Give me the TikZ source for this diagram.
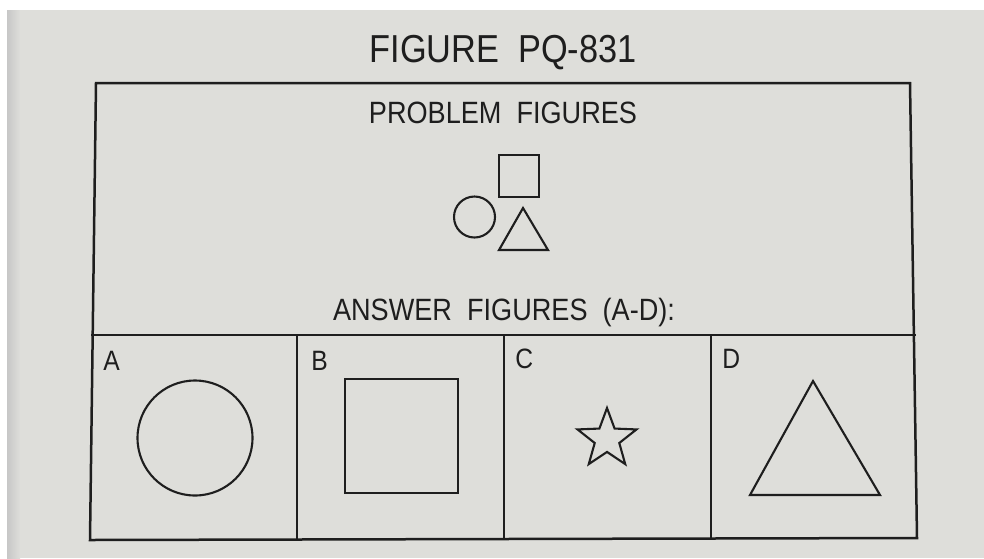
\documentclass[tikz,border=0pt]{standalone}
\usepackage{fontspec}
\setmainfont{Liberation Sans}[FakeStretch=0.88,WordSpace=2]
\usetikzlibrary{shapes.geometric}
\definecolor{paper}{RGB}{222,222,218}
\definecolor{ink}{RGB}{30,30,30}

\begin{document}
\begin{tikzpicture}[x=0.5pt,y=-0.5pt,
  frame/.style={draw=ink,line width=1.25pt},
  outline/.style={draw=ink,line width=1.05pt},
  caption/.style={font=\fontsize{15.4}{16}\selectfont,text=ink,inner sep=0pt,anchor=base},
  tag/.style={font=\fontsize{14}{15}\selectfont,text=ink,inner sep=0pt,anchor=base west}]
  \useasboundingbox (0,0) rectangle (984,558);
  \fill[white] (0,0) rectangle (984,558);
  \fill[paper] (7,10) rectangle (984,558);
  \shade[left color=black!22,right color=paper] (7,10) rectangle (20,558);
  % headings
  \node[caption,font=\fontsize{19.5}{20}\selectfont] (title) at (503,62) {FIGURE PQ-831};
  \node[caption] (problem) at (503,123) {PROBLEM FIGURES};
  \node[caption] (answers) at (504,320) {ANSWER FIGURES (A-D):};
  % frame, slightly skewed as printed
  \draw[frame] (96,83) -- (910,83) -- (917,538) -- (90,540) -- cycle;
  \draw[frame] (91,335) -- (916,335);
  \foreach \x in {297,504,711} \draw[frame] (\x,335) -- (\x,539);
  % problem figures
  \draw[outline] (499,155) rectangle (539,197);
  \draw[outline] (474.5,217) circle (20.5);
  \draw[outline] (523,208) -- (548,250) -- (499,250) -- cycle;
  % answer figures
  \node[tag] (tagA) at (103,370) {A};
  \node[tag] (tagB) at (311,370) {B};
  \node[tag] (tagC) at (515,368) {C};
  \node[tag] (tagD) at (722,368) {D};
  \draw[outline] (195,438) circle (57.5);
  \draw[outline] (345,379) rectangle (458,493);
  \node[outline,star,star points=5,star point ratio=2.4,minimum size=31pt,inner sep=0pt] (starC) at (607,439) {};
  \draw[outline] (813,381) -- (880,495) -- (750,495) -- cycle;
\end{tikzpicture}
\end{document}
